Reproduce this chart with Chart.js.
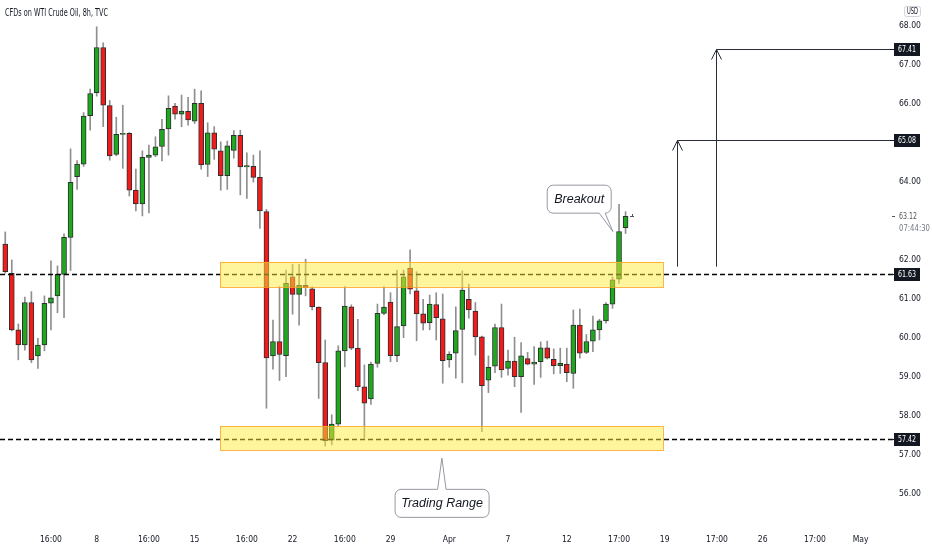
<!DOCTYPE html>
<html>
<head>
<meta charset="utf-8">
<script src="https://cdn.jsdelivr.net/npm/chart.js@4.4.1/dist/chart.umd.min.js"></script>
<style>
  html, body { margin: 0; padding: 0; background: #fff; }
</style>
</head>
<body>
<canvas id="chart" width="932" height="550"></canvas>
<script>
// 8h candles, WTI CFD
const open  = [62.41,61.66,60.21,59.82,60.91,59.54,59.82,60.89,61.08,61.63,62.58,64.14,64.46,65.70,66.29,67.45,65.96,64.71,65.22,65.25,
               63.79,63.44,64.63,64.69,64.91,65.36,65.95,65.74,65.81,65.56,66.02,64.45,65.26,64.80,64.16,64.81,65.20,64.39,64.40,64.12,
               63.24,59.54,59.91,59.55,61.57,61.12,61.35,61.26,60.79,59.37,57.38,57.79,59.67,60.80,59.74,58.75,58.44,59.35,60.63,60.92,
               59.55,60.31,61.79,61.21,60.62,60.39,60.86,60.49,59.44,59.61,60.22,60.99,60.69,60.03,58.92,59.28,60.27,59.22,59.41,59.01,
               59.47,59.33,59.39,59.75,59.45,59.29,59.33,59.09,60.33,59.63,59.92,60.21,60.44,60.87,61.51,62.83]
const high  = [62.72,62.00,60.36,61.05,61.19,59.99,61.08,61.98,61.85,62.67,64.85,64.55,65.78,66.38,67.98,67.57,66.09,65.66,65.97,65.27,
               64.33,64.80,64.95,65.16,65.61,66.21,66.02,66.23,66.17,66.38,66.34,65.52,65.42,65.03,65.05,65.32,65.33,64.75,64.69,64.80,
               63.30,60.46,61.32,61.74,61.89,61.89,62.02,61.31,60.80,59.95,58.03,59.80,61.32,60.85,60.48,59.31,59.38,60.87,61.32,61.16,
               61.74,61.74,62.26,61.70,60.99,61.10,61.16,61.13,59.65,60.80,61.72,61.38,60.91,60.05,59.54,60.36,60.87,59.69,60.02,59.88,
               59.63,59.78,59.90,59.92,59.72,59.74,59.74,60.72,60.74,60.09,60.56,60.48,60.91,61.57,63.43,63.24]
const low   = [61.66,60.18,59.44,59.69,59.37,59.22,59.67,60.21,60.65,60.52,61.73,63.81,64.40,65.33,66.20,65.42,64.56,64.67,64.35,63.64,
               63.26,63.13,63.21,64.65,64.54,64.69,65.61,65.42,65.46,65.50,64.33,64.14,64.58,63.79,63.81,64.61,63.67,63.58,64.00,62.81,
               58.20,59.20,58.91,59.01,60.61,60.33,61.08,60.72,58.45,57.23,57.26,57.75,59.26,59.70,58.65,57.43,58.30,59.25,60.60,59.39,
               59.39,60.01,61.13,59.93,60.21,60.21,59.95,58.84,59.25,58.97,58.85,60.51,59.56,57.60,58.60,59.11,58.99,59.05,58.75,58.09,
               59.31,58.81,58.99,59.46,59.08,59.09,58.88,58.71,59.48,59.60,59.65,59.95,60.38,60.76,61.40,62.68]
const close = [61.70,60.21,59.82,60.91,59.44,59.82,60.89,61.03,61.63,62.58,63.99,64.46,65.69,66.27,67.45,65.97,64.67,65.22,65.25,63.79,
               63.44,64.63,64.69,64.90,65.35,65.89,65.74,65.82,65.59,66.02,64.44,65.26,64.84,64.16,64.93,65.20,64.39,64.42,64.12,63.26,
               59.49,59.91,59.58,61.40,61.12,61.35,61.29,60.80,59.37,57.37,57.79,59.67,60.82,59.74,58.75,58.33,59.33,60.63,60.79,59.55,
               60.29,61.57,61.25,60.62,60.38,60.87,60.52,59.42,59.58,60.19,61.23,60.72,60.03,58.78,59.25,60.27,59.18,59.41,59.01,59.54,
               59.33,59.38,59.75,59.48,59.29,59.35,59.11,60.33,59.61,59.91,60.21,60.44,60.87,61.49,62.73,63.12]

// time axis: 136 slots, labels only at some of them
const N_SLOTS = 136
const tickIdx  = [7, 14, 22, 29, 37, 44, 52, 59, 68, 77, 86, 94, 101, 109, 116, 124, 131]
const tickText = ['16:00','8','16:00','15','16:00','22','16:00','29','Apr','7','12','17:00','19','17:00','26','17:00','May']
const categories = Array.from({length: N_SLOTS}, (_, i) => {
    const k = tickIdx.indexOf(i)
    return k >= 0 ? tickText[k] : ''
})

// price axis
const yTicks = [56, 57, 58, 59, 60, 61, 62, 63, 64, 65, 66, 67, 68]
const yHidden = [63, 65]
const Y_MIN = 55.128
const Y_MAX = 68.667

// drawings
const levels  = [61.63, 57.42]
const zoneLo  = [61.31, 57.13]
const zoneHi  = [61.95, 57.74]
const zoneFrom = [32.9, 32.9]
const zoneTo   = [100.7, 100.7]
const arrowIdx  = [102.9, 108.8]
const arrowFrom = [61.83, 61.83]
const arrowTo   = [65.08, 67.41]

const FONT = '"Liberation Sans Narrow", "DejaVu Sans Condensed", "Liberation Sans", sans-serif'
const GREEN = '#1fa81f'
const RED = '#f21b1b'
const INK = '#131722'

const bodyColors = open.map((o, i) => close[i] >= o ? GREEN : RED)

// text squeezed to a given width (the chart font is narrower than what is installed)
function narrowText(ctx, text, x, y, width, align) {
    const w = ctx.measureText(text).width
    const k = Math.min(1, width / w)
    ctx.save()
    ctx.translate(x, y)
    ctx.scale(k, 1)
    ctx.textAlign = align
    ctx.fillText(text, 0, 0)
    ctx.restore()
}

function bubble(ctx, l, t, w, h, r, tip, base, side) {
    const rt = l + w, b = t + h
    ctx.beginPath()
    ctx.moveTo(l + r, t)
    if (side === 'top') {
        ctx.lineTo(base[0], t); ctx.lineTo(tip[0], tip[1]); ctx.lineTo(base[1], t)
    }
    ctx.lineTo(rt - r, t)
    ctx.arcTo(rt, t, rt, t + r, r)
    ctx.lineTo(rt, b - r)
    ctx.arcTo(rt, b, rt - r, b, r)
    if (side === 'bottom') {
        ctx.lineTo(base[1], b); ctx.lineTo(tip[0], tip[1]); ctx.lineTo(base[0], b)
    }
    ctx.lineTo(l + r, b)
    ctx.arcTo(l, b, l, b - r, r)
    ctx.lineTo(l, t + r)
    ctx.arcTo(l, t, l + r, t, r)
    ctx.closePath()
    ctx.fillStyle = '#fff'
    ctx.fill()
    ctx.strokeStyle = '#9598a1'
    ctx.lineWidth = 1
    ctx.stroke()
}

const drawings = {
    id: 'drawings',
    afterDatasetsDraw(chart) {
        const {ctx, chartArea: a, scales: {x, y}} = chart
        ctx.save()
        // horizontal levels
        ctx.strokeStyle = '#000'
        ctx.lineWidth = 1.5
        ctx.setLineDash([5, 3])
        levels.forEach(v => {
            const py = Math.round(y.getPixelForValue(v)) + 0.5
            ctx.beginPath(); ctx.moveTo(a.left - 2, py); ctx.lineTo(a.right + 3, py); ctx.stroke()
        })
        ctx.setLineDash([])
        // range zones
        zoneLo.forEach((lo, i) => {
            const x1 = x.getPixelForValue(zoneFrom[i]), x2 = x.getPixelForValue(zoneTo[i])
            const y1 = y.getPixelForValue(zoneHi[i]), y2 = y.getPixelForValue(lo)
            ctx.fillStyle = 'rgba(255, 235, 59, 0.5)'
            ctx.fillRect(x1, y1, x2 - x1, y2 - y1)
            ctx.strokeStyle = 'rgba(255, 167, 38, 0.85)'
            ctx.lineWidth = 1
            ctx.strokeRect(Math.round(x1) + 0.5, Math.round(y1) + 0.5, Math.round(x2 - x1), Math.round(y2 - y1))
        })
        // target arrows
        ctx.strokeStyle = '#2a2e39'
        ctx.lineWidth = 1
        arrowIdx.forEach((ix, i) => {
            const px = Math.round(x.getPixelForValue(ix)) + 0.5
            const yb = y.getPixelForValue(arrowFrom[i]), yt = Math.round(y.getPixelForValue(arrowTo[i])) + 0.5
            ctx.beginPath()
            ctx.moveTo(px, yb); ctx.lineTo(px, yt); ctx.lineTo(a.right + 3, yt)
            ctx.moveTo(px - 5, yt + 10); ctx.lineTo(px, yt); ctx.lineTo(px + 5, yt + 10)
            ctx.stroke()
        })
        // callouts
        const bx = x.getPixelForValue(87.9), by = y.getPixelForValue(63.56)
        bubble(ctx, bx - 32, by - 14, 64, 28, 6,
            [x.getPixelForValue(93.06), y.getPixelForValue(62.73)], [bx + 20, bx + 26], 'bottom')
        const tx = x.getPixelForValue(66.9), ty = y.getPixelForValue(55.76)
        bubble(ctx, tx - 47, ty - 14, 94, 28, 6,
            [x.getPixelForValue(66.87), y.getPixelForValue(56.92)], [tx - 4.5, tx + 4], 'top')
        ctx.fillStyle = INK
        ctx.font = 'italic 12.5px "Liberation Sans", Arimo, sans-serif'
        ctx.textAlign = 'center'
        ctx.textBaseline = 'middle'
        ctx.fillText('Breakout', bx, by + 0.5)
        ctx.fillText('Trading Range', tx, ty + 0.5)
        ctx.restore()
    },
    afterDraw(chart) {
        const {ctx, chartArea: a, scales: {x, y}} = chart
        ctx.save()
        ctx.font = '9px ' + FONT
        ctx.textBaseline = 'middle'
        // boxed price labels
        levels.concat(arrowTo).forEach(v => {
            const py = Math.round(y.getPixelForValue(v))
            ctx.fillStyle = INK
            ctx.fillRect(a.right, py, 4, 1)
            ctx.fillRect(a.right + 4, py - 6, 26, 13)
            ctx.fillStyle = '#fff'
            narrowText(ctx, v.toFixed(2), a.right + 17, py + 0.5, 18, 'center')
        })
        // last price
        const last = close[close.length - 1]
        const ly = Math.round(y.getPixelForValue(last))
        ctx.fillStyle = '#555'
        ctx.fillRect(a.right + 2, ly, 3, 1)
        narrowText(ctx, last.toFixed(2), a.right + 9, ly + 0.5, 18, 'left')
        ctx.fillStyle = '#787b86'
        narrowText(ctx, '07:44:30', a.right + 9, ly + 12.5, 31, 'left')
        const lx = Math.round(x.getPixelForValue(close.length - 1)) + 4
        ctx.fillStyle = '#555'
        ctx.fillRect(lx, ly, 4, 1)
        ctx.fillRect(lx + 2, ly - 2, 1, 3)
        // currency badge
        ctx.strokeStyle = '#d1d4dc'
        ctx.lineWidth = 1
        ctx.beginPath()
        ctx.roundRect(a.right + 14.5, 6.5, 16, 10, 2)
        ctx.stroke()
        ctx.fillStyle = INK
        ctx.font = '8px ' + FONT
        narrowText(ctx, 'USD', a.right + 22.5, 11.8, 11, 'center')
        // title
        ctx.font = '10px ' + FONT
        narrowText(ctx, 'CFDs on WTI Crude Oil, 8h, TVC', 5, 13, 103, 'left')
        ctx.restore()
    }
}

new Chart(document.getElementById('chart'), {
    type: 'bar',
    data: {
        labels: categories,
        datasets: [{
            label: 'body',
            data: open.map((o, i) => [o, close[i]]),
            backgroundColor: bodyColors,
            borderColor: '#2e2e2e',
            borderWidth: 1,
            borderSkipped: false,
            barThickness: 5,
            grouped: false,
            order: 1
        }, {
            label: 'wick',
            data: low.map((l, i) => [l, high[i]]),
            backgroundColor: '#8f8f8f',
            barThickness: 1,
            grouped: false,
            order: 2
        }]
    },
    options: {
        responsive: false,
        animation: false,
        layout: {autoPadding: false, padding: {left: 2, right: 0, top: 0, bottom: 0}},
        plugins: {legend: {display: false}, tooltip: {enabled: false}},
        scales: {
            x: {
                type: 'category',
                offset: true,
                grid: {display: false, drawTicks: false},
                border: {display: false},
                ticks: {
                    autoSkip: false, maxRotation: 0, padding: 7, color: INK,
                    font: {family: FONT, size: 8.5},
                    callback: (v, i) => categories[i]
                },
                afterFit: s => { s.height = 22; s.paddingLeft = 0; s.paddingRight = 0 }
            },
            y: {
                position: 'right',
                bounds: 'data',
                min: Y_MIN,
                max: Y_MAX,
                grid: {display: false, drawTicks: false},
                border: {display: false},
                afterBuildTicks: s => {
                    s.ticks = yTicks.map(v => ({value: v}))
                    s.min = Y_MIN
                    s.max = Y_MAX
                },
                afterFit: s => { s.width = 42; s.paddingTop = 0; s.paddingBottom = 0 },
                ticks: {
                    padding: 9, crossAlign: 'near', color: INK,
                    font: {family: FONT, size: 8.5},
                    callback: v => yHidden.includes(v) ? '' : v.toFixed(2)
                }
            }
        }
    },
    plugins: [drawings]
})
</script>
</body>
</html>
